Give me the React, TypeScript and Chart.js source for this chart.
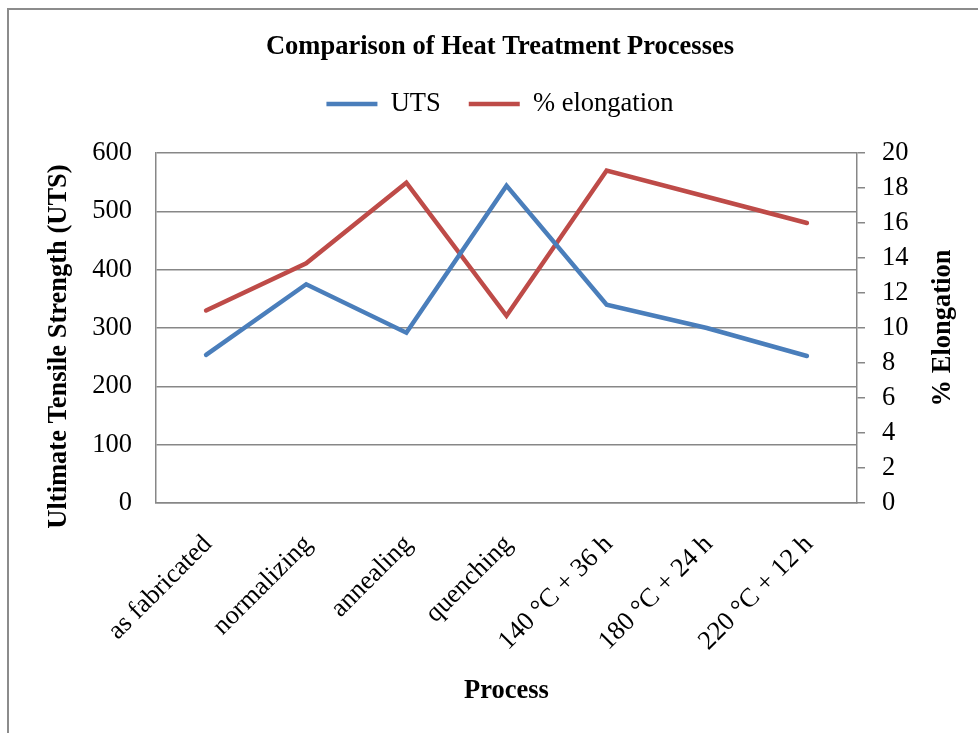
import React, { useEffect, useRef } from 'react';
import { Chart, registerables } from 'chart.js';

Chart.register(...registerables);

const chartTitle = 'Comparison of Heat Treatment Processes';
const categories = [
  'as fabricated',
  'normalizing',
  'annealing',
  'quenching',
  '140 °C + 36 h',
  '180 °C + 24 h',
  '220 °C + 12 h',
];
const utsLabel = 'UTS';
const elongationLabel = '% elongation';
const utsValues = [254, 375, 292, 544, 340, 300, 252];
const elongationValues = [11.0, 13.7, 18.3, 10.7, 19.0, 17.5, 16.0];
const leftAxisTitle = 'Ultimate Tensile Strength (UTS)';
const rightAxisTitle = '% Elongation';
const xAxisTitle = 'Process';
const leftAxisRange = [0, 600, 100];
const rightAxisRange = [0, 20, 2];

const FONT = '"Liberation Serif", "Times New Roman", serif';
const GRID = '#878787';
const BLUE = '#4A7EBB';
const RED = '#BE4B48';
const FS = 26.5;

export default function App() {
  const ref = useRef<HTMLCanvasElement>(null);

  useEffect(() => {
    const canvas = ref.current!;
    const axisTitles = {
      id: 'axisTitles',
      afterDraw(chart: any) {
        const { ctx, chartArea } = chart;
        const cy = (chartArea.top + chartArea.bottom) / 2;
        ctx.save();
        ctx.font = `bold ${FS}px ${FONT}`;
        ctx.fillStyle = '#000';
        ctx.textAlign = 'center';
        ctx.textBaseline = 'middle';
        ctx.translate(chartArea.left - 96.5, cy + 18.5);
        ctx.rotate(-Math.PI / 2);
        ctx.fillText(leftAxisTitle, 0, 0);
        ctx.restore();
        ctx.save();
        ctx.font = `bold ${FS}px ${FONT}`;
        ctx.fillStyle = '#000';
        ctx.textAlign = 'center';
        ctx.textBaseline = 'middle';
        ctx.translate(chartArea.right + 86, cy);
        ctx.rotate(-Math.PI / 2);
        ctx.fillText(rightAxisTitle, 0, 0);
        ctx.restore();
      },
    };

    const chart = new Chart(canvas, {
      type: 'line',
      data: {
        labels: categories,
        datasets: [
          {
            label: utsLabel,
            data: utsValues,
            borderColor: BLUE,
            backgroundColor: BLUE,
            borderWidth: 4.5,
            pointRadius: 0,
            borderCapStyle: 'round',
            borderJoinStyle: 'miter',
            tension: 0,
            yAxisID: 'y',
          },
          {
            label: elongationLabel,
            data: elongationValues,
            borderColor: RED,
            backgroundColor: RED,
            borderWidth: 4.5,
            pointRadius: 0,
            borderCapStyle: 'round',
            borderJoinStyle: 'miter',
            tension: 0,
            yAxisID: 'y1',
          },
        ],
      },
      options: {
        responsive: false,
        animation: false,
        devicePixelRatio: 1,
        layout: { padding: { left: 13, right: 0, top: 0, bottom: 0 } },
        plugins: {
          title: {
            display: true,
            text: chartTitle,
            color: '#000',
            font: { family: FONT, size: FS, weight: 'bold' },
            padding: { top: 21, bottom: 0 },
          },
          subtitle: {
            display: true,
            text: ' ',
            weight: 500,
            font: { family: FONT, size: 10 },
            padding: { top: 13.7, bottom: 0 },
          },
          legend: {
            display: true,
            labels: {
              usePointStyle: true,
              pointStyle: 'line',
              pointStyleWidth: 51,
              padding: 28,
              color: '#000',
              font: { family: FONT, size: FS },
            },
          },
          tooltip: { enabled: false },
        },
        scales: {
          x: {
            type: 'category',
            offset: true,
            grid: { display: false, drawTicks: false },
            border: { display: true, color: GRID, width: 1.5 },
            ticks: {
              autoSkip: false,
              minRotation: 45,
              maxRotation: 45,
              padding: 26,
              labelOffset: 2,
              color: '#000',
              font: { family: FONT, size: FS },
            },
            title: {
              display: true,
              text: xAxisTitle,
              color: '#000',
              font: { family: FONT, size: FS, weight: 'bold' },
              padding: { top: 0, bottom: 26 },
            },
            afterFit: (s: any) => {
              s.height = 230;
            },
          },
          y: {
            type: 'linear',
            position: 'left',
            min: leftAxisRange[0],
            max: leftAxisRange[1],
            ticks: {
              stepSize: leftAxisRange[2],
              padding: 24,
              color: '#000',
              font: { family: FONT, size: FS },
            },
            grid: { color: GRID, lineWidth: 1.5, drawTicks: false },
            border: { display: true, color: GRID, width: 1.5 },
            afterFit: (s: any) => {
              s.width = 134;
            },
          },
          y1: {
            type: 'linear',
            position: 'right',
            min: rightAxisRange[0],
            max: rightAxisRange[1],
            ticks: {
              stepSize: rightAxisRange[2],
              padding: 17,
              color: '#000',
              font: { family: FONT, size: FS },
            },
            grid: { drawOnChartArea: false, color: GRID, lineWidth: 1.5, tickLength: 8 },
            border: { display: true, color: GRID, width: 1.5 },
            afterFit: (s: any) => {
              s.width = 121;
            },
          },
        },
      } as any,
      plugins: [axisTitles],
    });
    return () => chart.destroy();
  }, []);

  return (
    <div
      style={{
        position: 'absolute',
        left: 7,
        top: 8,
        width: 969,
        height: 723,
        borderTop: '2px solid #8c8c8c',
        borderLeft: '2px solid #8c8c8c',
        background: '#fff',
      }}
    >
      <canvas ref={ref} width={969} height={723} style={{ display: 'block' }} />
    </div>
  );
}
